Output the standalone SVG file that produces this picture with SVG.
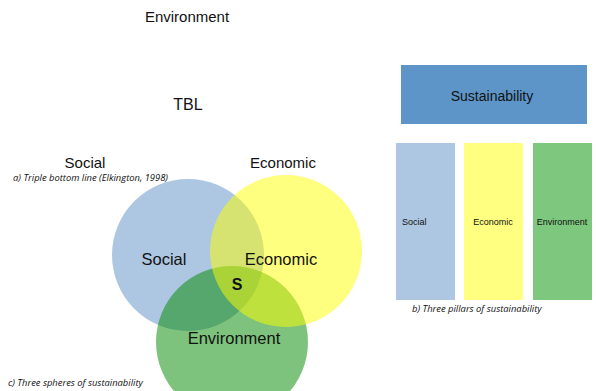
<svg xmlns="http://www.w3.org/2000/svg" width="596" height="391" viewBox="0 0 596 391">
<style>
.t{font-family:"Liberation Sans",Arial,sans-serif;fill:#111;text-anchor:middle}
.cap{font-family:"Open Sans","Liberation Sans",sans-serif;font-style:italic;font-size:9.4px;fill:#111}
</style>
<rect width="596" height="391" fill="#fff"/>
<g id="tbl">
<text class="t" x="187" y="22" font-size="15">Environment</text>
<text class="t" x="188" y="110" font-size="16">TBL</text>
<text class="t" x="85" y="168" font-size="15">Social</text>
<text class="t" x="283" y="168" font-size="15">Economic</text>
<text class="cap" x="13" y="181">a) Triple bottom line (Elkington, 1998)</text>
</g>
<g id="spheres">
<circle id="c-social" cx="188" cy="255" r="76" fill="#adc6e1"/>
<circle id="c-environment" cx="232" cy="342" r="76" fill="#008a00" fill-opacity="0.51"/>
<circle id="c-economic" cx="286" cy="251" r="76" fill="#ffff00" fill-opacity="0.5"/>
<text class="t" x="164" y="265" font-size="16.5">Social</text>
<text class="t" x="281" y="265" font-size="16.5">Economic</text>
<text class="t" x="237" y="290" font-size="16" font-weight="bold">S</text>
<text class="t" x="234" y="344" font-size="16.5">Environment</text>
<text class="cap" x="8" y="386">c) Three spheres of sustainability</text>
</g>
<g id="pillars">
<rect x="401" y="65" width="186" height="59" fill="#5d95c8"/>
<text class="t" x="492" y="101" font-size="14">Sustainability</text>
<rect x="396" y="143" width="59" height="157" fill="#adc6e1"/>
<rect x="464" y="143" width="59" height="157" fill="#ffff80"/>
<rect x="533" y="143" width="59" height="157" fill="#7dc77e"/>
<text x="402" y="225" font-size="9" font-family="Liberation Sans,Arial,sans-serif" fill="#111">Social</text>
<text class="t" x="493" y="225" font-size="9">Economic</text>
<text class="t" x="562" y="225" font-size="9">Environment</text>
<text class="cap" x="412" y="312">b) Three pillars of sustainability</text>
</g>
</svg>
